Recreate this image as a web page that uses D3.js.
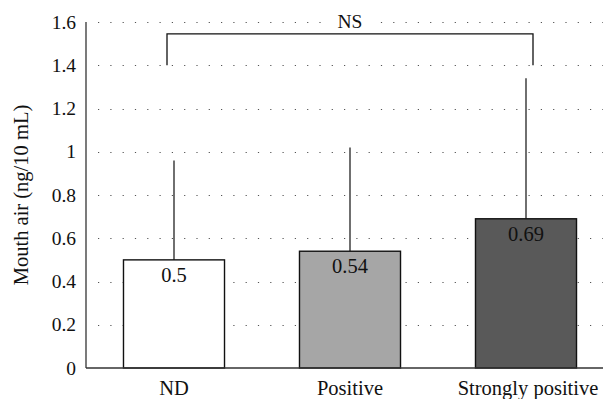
<!DOCTYPE html>
<html>
<head>
<meta charset="utf-8">
<script src="https://cdn.jsdelivr.net/npm/d3@7"></script>
<style>
  html, body { margin: 0; padding: 0; background: #fff; }
  svg { display: block; }
</style>
</head>
<body>
<svg id="chart" width="603" height="399"></svg>
<script>
  const categories = ['ND', 'Positive', 'Strongly positive'];
  const means = [0.5, 0.54, 0.69];
  const sds = [0.46, 0.48, 0.65];
  const labels = ['0.5', '0.54', '0.69'];
  const fills = ['#ffffff', '#a6a6a6', '#595959'];
  const yTicks = [0, 0.2, 0.4, 0.6, 0.8, 1, 1.2, 1.4, 1.6];
  const yTickLabels = ['0', '0.2', '0.4', '0.6', '0.8', '1', '1.2', '1.4', '1.6'];
  const bracket = { from: 0, to: 2, base: 1.4, top: 1.545, text: 'NS' };

  (function () {
    const svg = d3.select('#chart');
    const W = 603;
    const mLeft = 86, mTop = 22, mBottom = 368;

    const x = d3.scaleBand().domain(categories).range([mLeft, mLeft + 3 * 176]).paddingInner(0.426).paddingOuter(0.213);
    const y = d3.scaleLinear().domain([0, 1.6]).range([mBottom, mTop]);

    function label(sel, size) {
      return sel.attr('font-family', 'Liberation Serif')
        .style('font-family', 'Liberation Serif')
        .attr('font-size', size || 20.5).attr('fill', '#111');
    }

    // dotted grid
    svg.append('g').selectAll('line').data(yTicks.slice(1)).join('line')
      .attr('x1', mLeft + 12).attr('x2', W)
      .attr('y1', function (d) { return Math.round(y(d)) + 0.5; })
      .attr('y2', function (d) { return Math.round(y(d)) + 0.5; })
      .attr('stroke', '#555').attr('stroke-width', 1.2)
      .attr('stroke-dasharray', '1.2,11.1');

    // y tick labels
    label(svg.append('g').selectAll('text').data(yTicks).join('text'), 19.5)
      .attr('x', 76).attr('y', function (d) { return y(d); }).attr('dy', '0.34em')
      .attr('text-anchor', 'end')
      .text(function (d, i) { return yTickLabels[i]; });

    // error bars (drawn under bars)
    const cx = function (c) { return x(c) + x.bandwidth() / 2; };
    svg.append('g').selectAll('line').data(categories).join('line')
      .attr('x1', cx).attr('x2', cx)
      .attr('y1', function (d, i) { return y(means[i]); })
      .attr('y2', function (d, i) { return y(means[i] + sds[i]); })
      .attr('stroke', '#222').attr('stroke-width', 1.3);

    // bars
    svg.append('g').selectAll('rect').data(categories).join('rect')
      .attr('x', function (d) { return x(d); })
      .attr('width', x.bandwidth())
      .attr('y', function (d, i) { return y(means[i]); })
      .attr('height', function (d, i) { return y(0) - y(means[i]); })
      .attr('fill', function (d, i) { return fills[i]; })
      .attr('stroke', '#111').attr('stroke-width', 1.4);

    // value labels
    label(svg.append('g').selectAll('text').data(categories).join('text'))
      .attr('x', cx)
      .attr('y', function (d, i) { return y(means[i]) + 22; })
      .attr('text-anchor', 'middle')
      .text(function (d, i) { return labels[i]; });

    // axes lines
    svg.append('line').attr('x1', mLeft).attr('x2', mLeft).attr('y1', mTop).attr('y2', mBottom)
      .attr('stroke', '#333').attr('stroke-width', 1.3);
    svg.append('line').attr('x1', mLeft).attr('x2', W).attr('y1', mBottom).attr('y2', mBottom)
      .attr('stroke', '#333').attr('stroke-width', 1.3);

    // x labels
    label(svg.append('g').selectAll('text').data(categories).join('text'))
      .attr('x', function (d, i) { return i === 2 ? 528 : cx(d); }).attr('y', 395)
      .attr('text-anchor', 'middle')
      .text(function (d) { return d; });

    // y title
    label(svg.append('text'))
      .attr('transform', 'translate(28,' + ((mTop + mBottom) / 2) + ') rotate(-90)')
      .attr('text-anchor', 'middle')
      .text('Mouth air (ng/10 mL)');

    // significance bracket
    const bx1 = cx(categories[bracket.from]) - 7, bx2 = cx(categories[bracket.to]) + 7;
    svg.append('path')
      .attr('d', 'M' + bx1 + ',' + y(bracket.base) + 'V' + y(bracket.top) + 'H' + bx2 + 'V' + y(bracket.base))
      .attr('fill', 'none').attr('stroke', '#111').attr('stroke-width', 1.3);
    svg.append('rect').attr('x', (bx1 + bx2) / 2 - 20).attr('y', 12).attr('width', 40).attr('height', 18).attr('fill', '#fff');
    label(svg.append('text'), 19.5).attr('x', (bx1 + bx2) / 2).attr('y', 28)
      .attr('text-anchor', 'middle').text(bracket.text);
  })();
</script>
</body>
</html>
